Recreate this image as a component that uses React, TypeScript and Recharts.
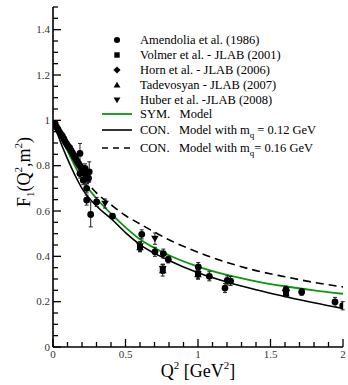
import { ComposedChart, Line, Scatter, XAxis, YAxis, ErrorBar } from 'recharts';

// model curves
const curveQ2 = [0, 0.025, 0.05, 0.1, 0.15, 0.2, 0.3, 0.4, 0.5, 0.6, 0.8, 1.0, 1.2, 1.4, 1.6, 1.8, 2.0];
const symF = [1.0, 0.965, 0.93, 0.865, 0.8, 0.74, 0.655, 0.588, 0.528, 0.475, 0.405, 0.355, 0.318, 0.29, 0.268, 0.25, 0.235];
const con12F = [1.0, 0.953, 0.908, 0.83, 0.76, 0.7, 0.622, 0.567, 0.505, 0.452, 0.382, 0.328, 0.287, 0.253, 0.223, 0.195, 0.17];
const con16F = [1.0, 0.97, 0.94, 0.88, 0.82, 0.76, 0.68, 0.628, 0.58, 0.543, 0.473, 0.418, 0.373, 0.337, 0.31, 0.285, 0.265];

// experimental points
const amendoliaQ2 = [0.015, 0.025, 0.035, 0.045, 0.055, 0.065, 0.075, 0.085, 0.095, 0.105, 0.115, 0.125, 0.135, 0.145, 0.155, 0.165, 0.175, 0.185, 0.195, 0.205, 0.215, 0.23, 0.245,
  0.186, 0.221, 0.25, 0.186, 0.209, 0.232, 0.232, 0.26, 0.301, 0.41, 0.612, 0.703, 0.761, 0.795, 1.002, 1.078, 1.186, 1.202, 1.225, 1.607, 1.715, 1.945, 1.998];
const amendoliaF = [0.985, 0.97, 0.96, 0.948, 0.938, 0.93, 0.918, 0.905, 0.895, 0.885, 0.878, 0.866, 0.855, 0.843, 0.833, 0.82, 0.81, 0.8, 0.79, 0.78, 0.77, 0.755, 0.745,
  0.854, 0.788, 0.773, 0.765, 0.736, 0.7, 0.648, 0.585, 0.64, 0.577, 0.497, 0.42, 0.412, 0.386, 0.353, 0.312, 0.26, 0.294, 0.291, 0.253, 0.243, 0.199, 0.182];
const amendoliaErr = [0.008, 0.008, 0.009, 0.009, 0.01, 0.01, 0.01, 0.011, 0.011, 0.012, 0.012, 0.012, 0.013, 0.013, 0.014, 0.014, 0.015, 0.015, 0.016, 0.016, 0.017, 0.018, 0.019,
  0.044, 0.02, 0.044, 0.02, 0.02, 0.02, 0.022, 0.055, 0.02, 0.01, 0.02, 0.02, 0.02, 0.015, 0.02, 0.02, 0.02, 0.02, 0.02, 0.015, 0.015, 0.02, 0.018];

const volmerQ2 = [0.6, 0.757, 1.0, 1.607];
const volmerF = [0.441, 0.345, 0.324, 0.238];
const volmerErr = [0.02, 0.02, 0.02, 0.015];

const hornQ2 = [1.607];
const hornF = [0.248];
const hornErr = [0.015];

const tadevosyanQ2 = [0.6, 0.757, 1.0, 1.607];
const tadevosyanF = [0.44, 0.338, 0.32, 0.236];
const tadevosyanErr = [0.02, 0.025, 0.02, 0.015];

const huberQ2 = [0.359, 0.703, 0.6, 0.757, 1.0, 1.607];
const huberF = [0.633, 0.478, 0.445, 0.345, 0.32, 0.24];
const huberErr = [0.02, 0.025, 0.02, 0.02, 0.02, 0.015];

// axes
const xLabelTicks = [0, 0.5, 1, 1.5, 2];
const yLabelTicks = [0, 0.2, 0.4, 0.6, 0.8, 1, 1.2, 1.4];
const xAllTicks = Array.from({ length: 21 }, (_, i) => i / 10);
const yAllTicks = Array.from({ length: 31 }, (_, i) => Math.round(i * 5) / 100);

const FONT = '"Liberation Serif", "DejaVu Serif", serif';
const GREEN = '#0a980a';

const zip = (q: number[], f: number[], e?: number[]) =>
  q.map((v, i) => ({ q2: v, f: f[i], err: e ? e[i] : 0 }));

const isMajor = (list: number[], v: number) => list.some((t) => Math.abs(t - v) < 1e-6);

type Kind = 'circle' | 'square' | 'diamond' | 'up' | 'down';

function Marker({ kind, cx, cy, s = 1 }: { kind: Kind; cx: number; cy: number; s?: number }) {
  if (kind === 'circle') return <circle cx={cx} cy={cy} r={3.4 * s} fill="#000" />;
  if (kind === 'square') return <rect x={cx - 3 * s} y={cy - 3 * s} width={6 * s} height={6 * s} fill="#000" />;
  if (kind === 'diamond') {
    const d = 4 * s;
    return <polygon points={`${cx},${cy - d} ${cx + d},${cy} ${cx},${cy + d} ${cx - d},${cy}`} fill="#000" />;
  }
  const h = 3.6 * s;
  const w = 3.8 * s;
  if (kind === 'up') return <polygon points={`${cx},${cy - h} ${cx + w},${cy + h * 0.8} ${cx - w},${cy + h * 0.8}`} fill="#000" />;
  return <polygon points={`${cx},${cy + h} ${cx + w},${cy - h * 0.8} ${cx - w},${cy - h * 0.8}`} fill="#000" />;
}

function YTick(props: any) {
  const { x, y, payload } = props;
  const v = payload.value;
  const major = isMajor(yLabelTicks, v);
  const ax = x + 4;
  return (
    <g>
      <line x1={ax} x2={ax + (major ? 8 : 5)} y1={y} y2={y} stroke="#000" strokeWidth={1.3} />
      {major && (
        <text x={ax - 3} y={y + 3.5} textAnchor="end" fontSize={11} fontFamily={FONT} fill="#333">
          {String(v)}
        </text>
      )}
    </g>
  );
}

function XTick(props: any) {
  const { x, y, payload } = props;
  const v = payload.value;
  const major = isMajor(xLabelTicks, v);
  const ay = y - 4;
  return (
    <g>
      <line x1={x} x2={x} y1={ay} y2={ay - (major ? 8 : 5)} stroke="#000" strokeWidth={1.3} />
      {major && (
        <text x={x} y={ay + 11} textAnchor="middle" fontSize={11} fontFamily={FONT} fill="#333">
          {String(v)}
        </text>
      )}
    </g>
  );
}

const series: { name: string; kind: Kind; data: { q2: number; f: number; err: number }[] }[] = [
  { name: 'Amendolia et al. (1986)', kind: 'circle', data: zip(amendoliaQ2, amendoliaF, amendoliaErr) },
  { name: 'Volmer et al. - JLAB (2001)', kind: 'square', data: zip(volmerQ2, volmerF, volmerErr) },
  { name: 'Horn et al. - JLAB (2006)', kind: 'diamond', data: zip(hornQ2, hornF, hornErr) },
  { name: 'Tadevosyan - JLAB (2007)', kind: 'up', data: zip(tadevosyanQ2, tadevosyanF, tadevosyanErr) },
  { name: 'Huber et al. -JLAB (2008)', kind: 'down', data: zip(huberQ2, huberF, huberErr) },
];

export default function App() {
  const legendX = 117;
  const textX = 140;
  return (
    <div style={{ position: 'absolute', left: 0, top: 0, width: 348, height: 385, background: '#fff' }}>
      <ComposedChart width={348} height={385} margin={{ top: 7, right: 5, left: 0, bottom: 0 }}>
        <XAxis
          type="number"
          dataKey="q2"
          domain={[0, 2]}
          ticks={xAllTicks}
          interval={0}
          tickSize={0}
          tickMargin={4}
          tickLine={false}
          tick={<XTick />}
          height={38}
          axisLine={{ stroke: '#000', strokeWidth: 1.6 }}
          allowDataOverflow
        />
        <YAxis
          type="number"
          dataKey="f"
          domain={[0, 1.5]}
          ticks={yAllTicks}
          interval={0}
          tickSize={0}
          tickMargin={4}
          tickLine={false}
          tick={<YTick />}
          width={53}
          axisLine={{ stroke: '#000', strokeWidth: 1.6 }}
          allowDataOverflow
        />
        <Line data={zip(curveQ2, con16F)} dataKey="f" type="monotone" stroke="#000" strokeWidth={1.6} strokeDasharray="8 5" dot={false} isAnimationActive={false} />
        <Line data={zip(curveQ2, con12F)} dataKey="f" type="monotone" stroke="#000" strokeWidth={1.6} dot={false} isAnimationActive={false} />
        <Line data={zip(curveQ2, symF)} dataKey="f" type="monotone" stroke={GREEN} strokeWidth={1.8} dot={false} isAnimationActive={false} />
        {series.map((s) => (
          <Scatter
            key={s.name}
            data={s.data}
            dataKey="f"
            isAnimationActive={false}
            shape={(p: any) => <Marker kind={s.kind} cx={p.cx} cy={p.cy} />}
          >
            <ErrorBar dataKey="err" direction="y" width={2} stroke="#222" strokeWidth={1} />
          </Scatter>
        ))}
      </ComposedChart>
      <svg width={348} height={385} style={{ position: 'absolute', left: 0, top: 0, pointerEvents: 'none' }} fontFamily={FONT}>
        {series.map((s, i) => (
          <g key={s.name}>
            <Marker kind={s.kind} cx={legendX} cy={40 + i * 15} s={0.9} />
            <text x={textX} y={44 + i * 15} fontSize={12.5} fill="#000">{s.name}</text>
          </g>
        ))}
        <line x1={102} x2={132} y1={114} y2={114} stroke={GREEN} strokeWidth={1.8} />
        <text x={textX} y={118} fontSize={12.5} style={{ whiteSpace: 'pre' }}>SYM.   Model</text>
        <line x1={102} x2={132} y1={130} y2={130} stroke="#000" strokeWidth={1.6} />
        <text x={textX} y={134} fontSize={12.5} style={{ whiteSpace: 'pre' }}>
          CON.   Model with m<tspan dy={4} fontSize={9}>q</tspan><tspan dy={-4}> = 0.12 GeV</tspan>
        </text>
        <line x1={102} x2={132} y1={148} y2={148} stroke="#000" strokeWidth={1.6} strokeDasharray="6 5" />
        <text x={textX} y={152} fontSize={12.5} style={{ whiteSpace: 'pre' }}>
          CON.   Model with m<tspan dy={4} fontSize={9}>q</tspan><tspan dy={-4}>= 0.16 GeV</tspan>
        </text>
        <text x={198} y={377} fontSize={18} textAnchor="middle">
          Q<tspan dy={-8} fontSize={11}>2</tspan><tspan dy={8}> [GeV</tspan><tspan dy={-8} fontSize={11}>2</tspan><tspan dy={8}>]</tspan>
        </text>
        <text x={30} y={172} fontSize={18} textAnchor="middle" transform="rotate(-90 30 172)">
          F<tspan dy={4} fontSize={11}>1</tspan><tspan dy={-4}>(Q</tspan><tspan dy={-8} fontSize={11}>2</tspan><tspan dy={8}>,m</tspan><tspan dy={-8} fontSize={11}>2</tspan><tspan dy={8}>)</tspan>
        </text>
      </svg>
    </div>
  );
}
